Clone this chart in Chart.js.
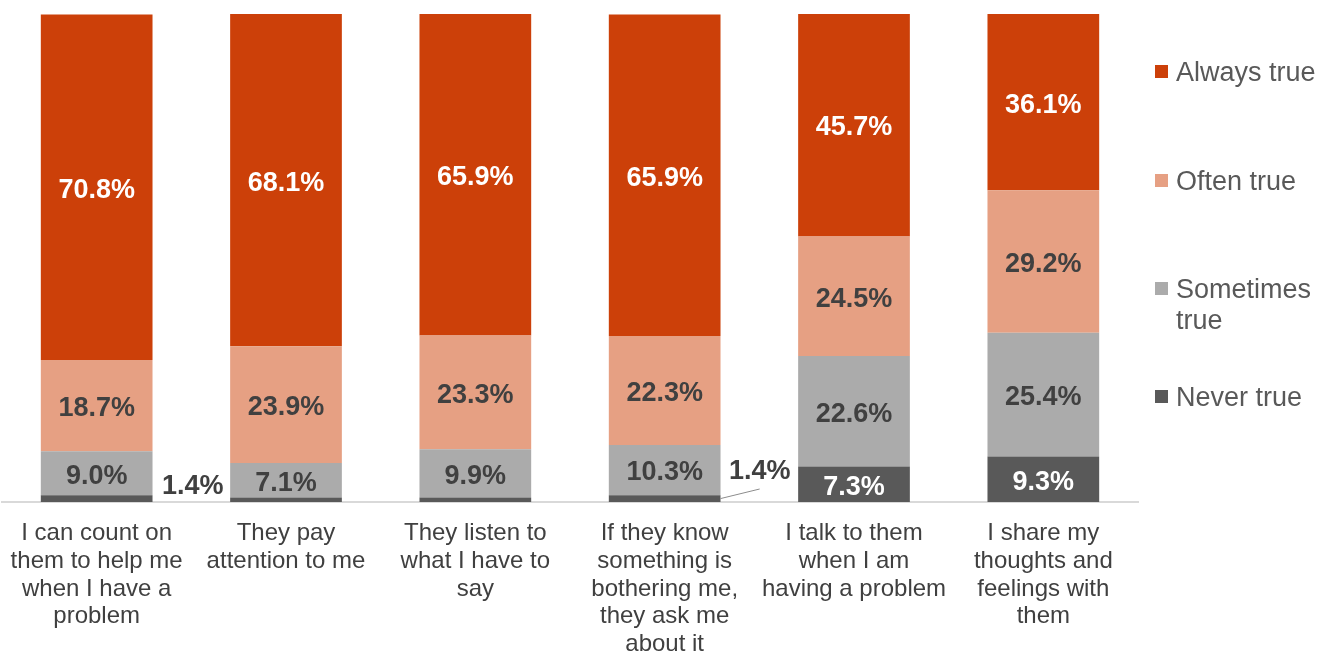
<!DOCTYPE html>
<html>
<head>
<meta charset="utf-8">
<style>
  html, body { margin: 0; padding: 0; background: #ffffff; }
  #wrap { width: 1317px; height: 652px; }
</style>
</head>
<body>
<script src="https://cdn.jsdelivr.net/npm/chart.js"></script>
<div id="wrap"><canvas id="canvas"></canvas></div>
<script>
const categories = [
  ["I can count on", "them to help me", "when I have a", "problem"],
  ["They pay", "attention to me"],
  ["They listen to", "what I have to", "say"],
  ["If they know", "something is", "bothering me,", "they ask me", "about it"],
  ["I talk to them", "when I am", "having a problem"],
  ["I share my", "thoughts and", "feelings with", "them"]
];
const neverTrue = [1.4, 0.9, 0.9, 1.4, 7.3, 9.3];
const sometimesTrue = [9.0, 7.1, 9.9, 10.3, 22.6, 25.4];
const oftenTrue = [18.7, 23.9, 23.3, 22.3, 24.5, 29.2];
const alwaysTrue = [70.8, 68.1, 65.9, 65.9, 45.7, 36.1];
const seriesNames = ["Never true", "Sometimes true", "Often true", "Always true"];

const colors = ["#595959", "#ababab", "#e6a083", "#cc4009"];
const labelColors = ["#ffffff", "#404040", "#404040", "#ffffff"];
const FONT = "Arial, 'Liberation Sans', sans-serif";

// small never-true values that get their label beside the bar
const outside = {
  0: { dx: 96, dy: -15, leader: false },
  3: { dx: 95, dy: -30, leader: true }
};

const valueLabels = {
  id: 'valueLabels',
  afterDatasetsDraw(chart) {
    const ctx = chart.ctx;
    ctx.save();
    ctx.font = "bold 27px " + FONT;
    ctx.textAlign = "center";
    ctx.textBaseline = "middle";
    chart.data.datasets.forEach((ds, di) => {
      const meta = chart.getDatasetMeta(di);
      meta.data.forEach((bar, i) => {
        const v = ds.data[i];
        const text = v.toFixed(1) + "%";
        if (di === 0 && v < 5) {
          const o = outside[i];
          if (!o) return;
          const x = bar.x + o.dx, y = chart.scales.y.bottom + o.dy;
          ctx.fillStyle = "#404040";
          ctx.fillText(text, x, y);
          if (o.leader) {
            ctx.strokeStyle = "#8c8c8c";
            ctx.lineWidth = 1;
            ctx.beginPath();
            ctx.moveTo(bar.x + bar.width / 2, (bar.y + bar.base) / 2);
            ctx.lineTo(x, y + 17);
            ctx.stroke();
          }
          return;
        }
        ctx.fillStyle = labelColors[di];
        ctx.fillText(text, bar.x, (bar.y + bar.base) / 2 + 3);
      });
    });
    ctx.restore();
  }
};

// legend on the right, top entry first
const sideLegend = {
  id: 'sideLegend',
  afterDraw(chart) {
    const ctx = chart.ctx;
    const rows = [
      { di: 3, y: 72, lines: ["Always true"] },
      { di: 2, y: 181, lines: ["Often true"] },
      { di: 1, y: 289, lines: ["Sometimes", "true"] },
      { di: 0, y: 397, lines: ["Never true"] }
    ];
    ctx.save();
    ctx.font = "27px " + FONT;
    ctx.textBaseline = "middle";
    ctx.textAlign = "left";
    rows.forEach(r => {
      ctx.fillStyle = colors[r.di];
      ctx.fillRect(1155, r.y - 7, 13, 13);
      ctx.fillStyle = "#595959";
      r.lines.forEach((line, k) => ctx.fillText(line, 1176, r.y + 2 + k * 31));
    });
    ctx.restore();
  }
};

const series = [neverTrue, sometimesTrue, oftenTrue, alwaysTrue];

new Chart(document.getElementById('canvas'), {
  type: 'bar',
  data: {
    labels: categories,
    datasets: series.map((d, i) => ({
      label: seriesNames[i],
      data: d,
      backgroundColor: colors[i],
      borderWidth: 0,
      barPercentage: 0.59,
      categoryPercentage: 1
    }))
  },
  options: {
    responsive: true,
    maintainAspectRatio: false,
    animation: false,
    layout: { padding: { left: 2, right: 179, top: 14, bottom: 0 } },
    plugins: {
      legend: { display: false },
      tooltip: { enabled: false }
    },
    scales: {
      x: {
        stacked: true,
        grid: { display: false, drawTicks: false },
        border: { display: true, color: "#d9d9d9", width: 2 },
        ticks: {
          color: "#404040",
          font: { family: FONT, size: 24, lineHeight: 1.15 },
          padding: 18,
          maxRotation: 0,
          autoSkip: false
        },
        afterFit(scale) {
          scale.height = 150;
          scale.paddingLeft = 0;
          scale.paddingRight = 0;
        }
      },
      y: {
        stacked: true,
        display: false,
        min: 0,
        max: 100
      }
    }
  },
  plugins: [valueLabels, sideLegend]
});
</script>
</body>
</html>
